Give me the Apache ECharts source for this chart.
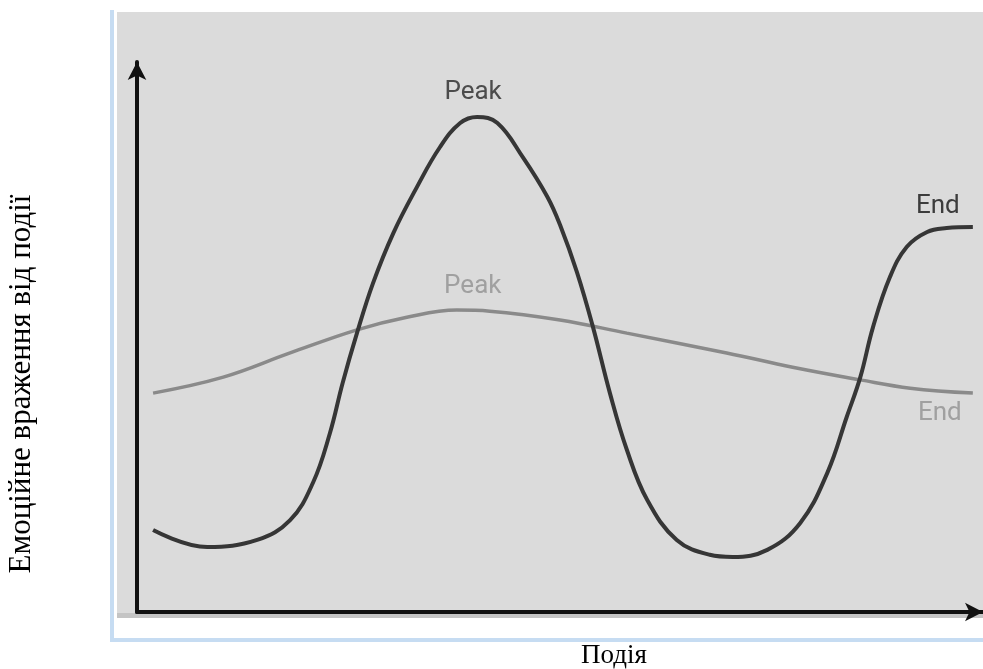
<!DOCTYPE html>
<html>
<head>
<meta charset="utf-8">
<script src="https://cdn.jsdelivr.net/npm/echarts@6/dist/echarts.min.js"></script>
<style>
  html,body{margin:0;padding:0;background:#fff;}
  #chart{width:983px;height:669px;}
</style>
</head>
<body>
<div id="chart"></div>
<script>
// ---- data (x: 0..100 along the event, y: 0..100 emotion) ----
const darkX = [1.9, 8.3, 14.2, 18.1, 20.8, 22.8, 24.3, 26.0, 27.9, 30.3, 33.1, 35.8, 38.2, 40.2, 42.6, 45.6, 48.5, 50.0, 52.0, 53.9, 55.9, 57.9, 60.3, 63.8, 67.7, 70.4, 74.5, 78.4, 81.6, 83.9, 85.5, 87.0, 89.0, 91.0, 93.4, 95.7, 98.8];
const darkY = [14.9, 11.8, 13.1, 16.7, 23.5, 32.5, 41.6, 50.7, 59.8, 68.9, 77.3, 84.5, 88.9, 90.0, 88.9, 82.7, 75.5, 70.4, 61.8, 51.8, 39.8, 29.5, 20.4, 13.1, 10.4, 10.0, 11.3, 16.2, 25.3, 35.5, 42.7, 51.8, 60.9, 66.4, 69.1, 69.8, 70.0];
const lightX = [1.9, 10.2, 18.1, 26.0, 31.9, 37.8, 41.7, 50.0, 57.9, 69.7, 77.5, 85.5, 91.4, 98.8];
const lightY = [39.8, 42.7, 47.1, 51.3, 53.6, 54.9, 54.7, 53.1, 50.7, 47.1, 44.5, 42.2, 40.7, 39.8];
const darkPeak = 13, lightPeak = 6;
const xTitle = 'Подія';
const yTitle = 'Емоційне враження від події';

const c = echarts.init(document.getElementById('chart'));
const pts = (xs, ys) => xs.map((x, i) => [x, ys[i]]);
const lbl = (text, color, offset) => ({
  show: true, formatter: text, color, fontSize: 26,
  fontFamily: 'Roboto, "Noto Sans", sans-serif', offset
});
const axisLine = { show: true, symbol: ['none', 'arrow'], symbolSize: [14, 18], lineStyle: { color: '#111', width: 4 } };
const serif = '"Liberation Serif", "DejaVu Serif", serif';

c.setOption({
  animation: false,
  grid: { left: 137, right: 0, top: 62, bottom: 57 },
  xAxis: {
    type: 'value', min: 0, max: 100, axisLine,
    axisTick: { show: false }, axisLabel: { show: false }, splitLine: { show: false }
  },
  yAxis: {
    type: 'value', min: 0, max: 100, axisLine,
    axisTick: { show: false }, axisLabel: { show: false }, splitLine: { show: false }
  },
  graphic: [
    { type: 'rect', z: -10, shape: { x: 110, y: 10, width: 4, height: 632 }, style: { fill: '#c6dcf2' } },
    { type: 'rect', z: -10, shape: { x: 110, y: 638, width: 873, height: 4 }, style: { fill: '#c6dcf2' } },
    { type: 'rect', z: -10, shape: { x: 117, y: 12, width: 866, height: 606 }, style: { fill: '#dbdbdb' } },
    { type: 'rect', z: -9, shape: { x: 117, y: 613, width: 866, height: 5 }, style: { fill: '#c4c4c4' } },
    { type: 'text', x: 614, y: 656,
      style: { text: xTitle, textAlign: 'center', textVerticalAlign: 'middle', font: '27px ' + serif, fill: '#000' } },
    { type: 'text', x: 22, y: 384, rotation: Math.PI / 2,
      style: { text: yTitle, textAlign: 'center', textVerticalAlign: 'middle', font: '31px ' + serif, fill: '#000' } }
  ],
  series: [
    {
      type: 'line', data: pts(lightX, lightY), smooth: 0.4, symbol: 'none',
      lineStyle: { color: '#8a8a8a', width: 3.5 }, z: 2,
      markPoint: {
        symbol: 'circle', symbolSize: 0,
        data: [
          { coord: [lightX[lightPeak], lightY[lightPeak]], label: lbl('Peak', '#a0a0a0', [-17, -25]) },
          { coord: [lightX[lightX.length - 1], lightY[lightY.length - 1]], label: lbl('End', '#a0a0a0', [-33, 20]) }
        ]
      }
    },
    {
      type: 'line', data: pts(darkX, darkY), smooth: 0.4, symbol: 'none',
      lineStyle: { color: '#363636', width: 4 }, z: 3,
      markPoint: {
        symbol: 'circle', symbolSize: 0,
        data: [
          { coord: [darkX[darkPeak], darkY[darkPeak]], label: lbl('Peak', '#4c4c4c', [-4, -25]) },
          { coord: [darkX[darkX.length - 1], darkY[darkY.length - 1]], label: lbl('End', '#3c3c3c', [-35, -21]) }
        ]
      }
    }
  ]
});
</script>
</body>
</html>
